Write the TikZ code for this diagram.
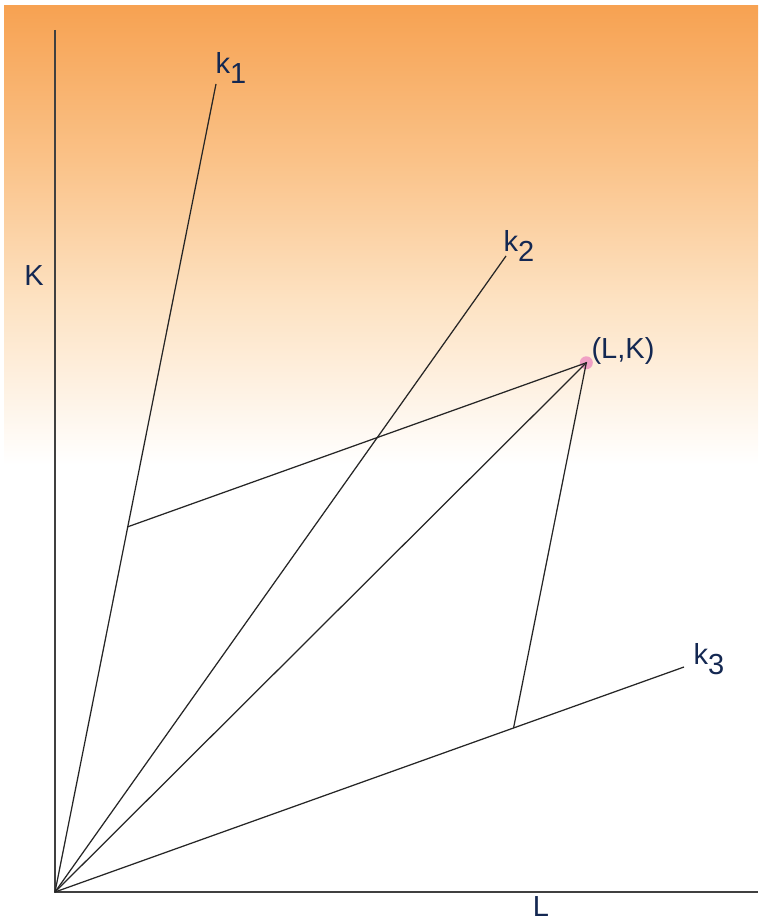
\documentclass[tikz,border=0pt]{standalone}
\usepackage{fontspec}
\setmainfont{Liberation Sans}
\usetikzlibrary{calc}

\definecolor{labelblue}{RGB}{20,40,82}
\definecolor{bgtop}{RGB}{247,162,82}
\definecolor{bgmid}{RGB}{250,194,136}
\definecolor{bglow}{RGB}{253,226,194}
\definecolor{dotpink}{RGB}{240,160,196}
\newcommand{\ksub}[1]{k\raisebox{-10pt}{#1}}

\begin{document}
\begin{tikzpicture}[x=1pt,y=-1pt,
    lbl/.style={text=labelblue,font=\fontsize{29}{32}\selectfont,inner sep=0pt},
    axisline/.style={line width=1.4pt,black!75},
    ray/.style={line width=1.25pt,black!85}]
  \useasboundingbox (0,0) rectangle (758,923);
  % background
  \shade[top color=bgtop,bottom color=bgmid] (4,6) rectangle (758,160);
  \shade[top color=bgmid,bottom color=bglow] (4,160) rectangle (758,300);
  \shade[top color=bglow,bottom color=white] (4,300) rectangle (758,465);

  \coordinate (O) at (55,892);
  \coordinate (Ytop) at (55,30);
  \coordinate (Xend) at (758,892);
  \coordinate (K1) at (216,84);
  \coordinate (K2) at (506,256);
  \coordinate (K3) at (684,667);
  \coordinate (A) at ($(O)!0.452!(K1)$);
  \coordinate (B) at ($(O)!0.729!(K3)$);
  \coordinate (P) at ($(A)+(B)-(O)$);

  \fill[dotpink] (P) circle (6.5pt);
  \draw[axisline] (Ytop) -- (O) -- (Xend);
  \draw[ray] (O) -- (K1);
  \draw[ray] (O) -- (K2);
  \draw[ray] (O) -- (K3);
  \draw[ray] (O) -- (P);
  \draw[ray] (A) -- (P) -- (B);

  \node[lbl] (Klab) at (34,276) {K};
  \node[lbl] (Llab) at (541,907) {L};
  \node[lbl] (k1lab) at (231,68) {\ksub{1}};
  \node[lbl] (k2lab) at (519,246) {\ksub{2}};
  \node[lbl] (k3lab) at (709,659) {\ksub{3}};
  \node[lbl] (Plab) at (623,351) {(L,K)};
\end{tikzpicture}
\end{document}
